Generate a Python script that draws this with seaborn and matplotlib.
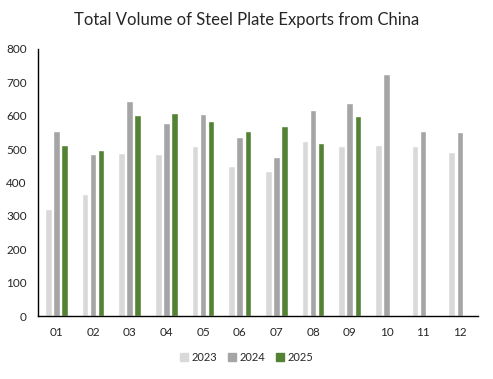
import matplotlib
matplotlib.use("Agg")
import matplotlib.pyplot as plt
import seaborn as sns
import pandas as pd
import numpy as np

months = ["01", "02", "03", "04", "05", "06", "07", "08", "09", "10", "11", "12"]
v2023 = [320, 365, 488, 485, 509, 449, 434, 524, 509, 512, 509, 491]
v2024 = [554, 485, 644, 578, 605, 536, 476, 617, 638, 725, 554, 551]
v2025 = [512, 497, 602, 608, 584, 554, 569, 518, 599, None, None, None]
years = ["2023", "2024", "2025"]
colors = ["#d9d9d9", "#a5a5a5", "#548235"]

rows = []
for yr, vals in zip(years, [v2023, v2024, v2025]):
    for m, v in zip(months, vals):
        rows.append({"month": m, "year": yr, "value": v})
df = pd.DataFrame(rows)

sns.set_style("white")
plt.rcParams["font.family"] = ["Lato", "DejaVu Sans"]

fig = plt.figure(figsize=(4.93, 3.79), dpi=100)
ax = fig.add_axes([0.077, 0.166, 0.893, 0.705])

sns.barplot(data=df, x="month", y="value", hue="year", hue_order=years,
            palette=colors, width=0.66, gap=0.18, saturation=1,
            errorbar=None, ax=ax)

ax.set_ylim(0, 800)
ax.set_yticks(range(0, 801, 100))
ax.set_xlim(-0.5, 11.5)
ax.set_xlabel("")
ax.set_ylabel("")
ax.tick_params(axis="y", length=0, labelsize=8.5, pad=8)
ax.tick_params(axis="x", which="major", length=0, labelsize=8.5, pad=8)
ax.set_xticks(np.arange(-0.5, 12, 1), minor=True)
ax.tick_params(axis="x", which="minor", length=4, width=1, direction="out", color="black")
for s in ["top", "right"]:
    ax.spines[s].set_visible(False)
for s in ["left", "bottom"]:
    ax.spines[s].set_color("black")
    ax.spines[s].set_linewidth(1)

fig.suptitle("Total Volume of Steel Plate Exports from China", y=0.968, fontsize=12)

ax.legend_.remove()
handles = [plt.Rectangle((0, 0), 1, 1, color=c) for c in colors]
fig.legend(handles, years, loc="center", bbox_to_anchor=(0.5, 0.058), ncol=3,
           frameon=False, fontsize=8, handlelength=0.7, handleheight=0.7,
           handletextpad=0.3, columnspacing=1.0)

fig.savefig("out.png", dpi=100)
